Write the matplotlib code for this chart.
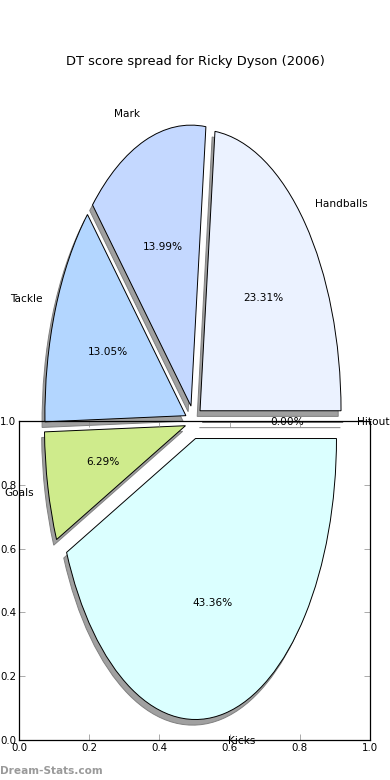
import matplotlib
matplotlib.use("Agg")
import matplotlib.pyplot as plt

labels = ["Handballs", "Mark", "Tackle", "Goals", "Kicks", "Hitout"]
shares = [23.31, 13.99, 13.05, 6.29, 43.36, 0.0]
colours = ["#EBF2FF", "#C4D8FF", "#B3D6FF", "#CFEB8C", "#DBFFFF", "#FFFFFF"]
ticks = [0.0, 0.2, 0.4, 0.6, 0.8, 1.0]
tick_labels = ["0.0", "0.2", "0.4", "0.6", "0.8", "1.0"]

dpi = 100
fig = plt.figure(figsize=(3.9, 7.8), dpi=dpi)

# the leftover 0..1 axes at the bottom
ax2 = fig.add_axes([0.0487, 0.0513, 0.9, 0.4090])
ax2.set_facecolor("none")
ax2.set_xlim(0, 1)
ax2.set_ylim(0, 1)
ax2.set_xticks(ticks)
ax2.set_xticklabels(tick_labels)
ax2.set_yticks(ticks)
ax2.set_yticklabels(tick_labels)
ax2.tick_params(direction="in", top=True, right=True, length=4, width=0.5,
                labelsize=7.4, pad=2, color="#888888")
for s in ax2.spines.values():
    s.set_linewidth(0.9)

# pie on a full-figure axes, stretched (no equal aspect)
ax = fig.add_axes([0, 0, 1, 1], zorder=-1)
ax.set_axis_off()
wedges, texts, autotexts = ax.pie(
    shares, labels=labels, colors=colours, explode=[0.06] * len(shares),
    autopct="%.2f%%", startangle=0, counterclock=True,
    shadow={"ox": -0.02 * 72 / dpi, "oy": -0.02 * 72 / dpi,
            "facecolor": "#a0a0a0", "edgecolor": "#808080", "alpha": 1.0},
    wedgeprops={"edgecolor": "black", "linewidth": 0.7},
    textprops={"fontsize": 7.6}, labeldistance=1.1, pctdistance=0.6,
)
ax.set_aspect("auto")
ax.set_xlim(-1.374, 1.392)
ax.set_ylim(-1.274, 1.502)

fig.text(0.5, 0.921, "DT score spread for Ricky Dyson (2006)", ha="center",
         va="center", fontsize=9.4)
fig.text(0.0, 0.0115, "Dream-Stats.com", ha="left", va="center",
         fontsize=7.6, fontweight="bold", color="#9a9a9a")

fig.savefig("out.png", dpi=dpi)
